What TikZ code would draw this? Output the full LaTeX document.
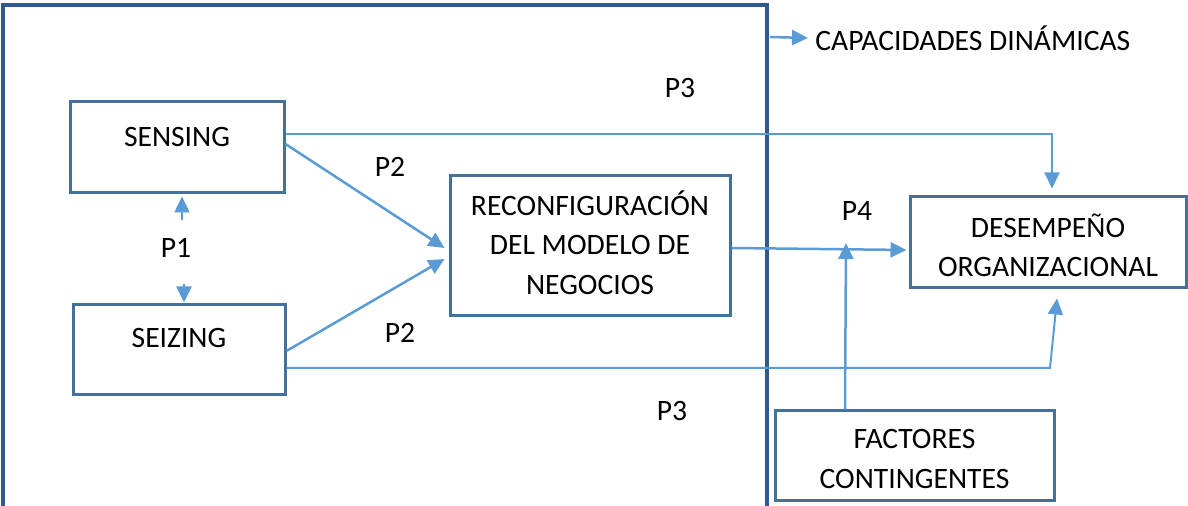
\documentclass[tikz,border=0pt]{standalone}
\usepackage{fontspec}
\setmainfont{Carlito}
\usetikzlibrary{arrows.meta,calc}
\definecolor{boxc}{HTML}{41719C}
\definecolor{framec}{HTML}{2F5A8C}
\definecolor{arrc}{HTML}{5B9BD5}
\begin{document}
\begin{tikzpicture}[x=0.5pt,y=-0.5pt,
  font=\fontsize{14.8pt}{19.8pt}\selectfont,
  box/.style={draw=boxc,line width=1.5pt,fill=white,inner sep=0pt},
  tip/.style={-{Triangle[length=8pt,width=7.5pt]}},
  conn/.style={draw=arrc,line width=1.25pt,tip},
  thin/.style={draw=arrc,line width=1pt,tip},
  lab/.style={inner sep=0pt,align=center}]
\useasboundingbox (0,0) rectangle (1188,506);
% frame
\draw[framec,line width=1.75pt] (3,515) -- (3,5) -- (767,5) -- (767,515);
% boxes
\node[box,minimum width=107pt,minimum height=45.5pt] (sens) at (177,147.5) {};
\node[lab] (senst) at ([yshift=5.25pt]sens.center) {SENSING};
\node[box,minimum width=106pt,minimum height=45pt] (seiz) at (179,350) {};
\node[lab] (seizt) at ([yshift=6pt]seiz.center) {SEIZING};
\node[box,minimum width=140pt,minimum height=70pt] (recon) at (590,246) {};
\node[lab] (recont) at ([yshift=1.8pt]recon.center) {RECONFIGURACIÓN\\DEL MODELO DE\\NEGOCIOS};
\node[box,minimum width=138pt,minimum height=45.5pt] (desem) at (1048,242.5) {};
\node[lab] (desemt) at ([yshift=-1.5pt]desem.center) {DESEMPEÑO\\ORGANIZACIONAL};
\node[box,minimum width=139.5pt,minimum height=45pt] (fact) at (914.5,456) {};
\node[lab] (factt) at ([yshift=-1.5pt]fact.center) {FACTORES\\CONTINGENTES};
% legend
\coordinate (cap0) at (770,37);
\node[lab,anchor=west] (cap) at (815,38) {CAPACIDADES DINÁMICAS};
\draw[conn] (cap0) -- ([xshift=-3.5pt]cap.west);
% labels
\node[lab] (p3a) at (680,88) {P3};
\node[lab] (p2a) at (390,167) {P2};
\node[lab] (p1) at (176,248) {P1};
\node[lab] (p2b) at (400,333) {P2};
\node[lab] (p4) at (857,211) {P4};
\node[lab] (p3b) at (672,411) {P3};
% P1 arrows
\coordinate (p1u) at (182,220);
\coordinate (p1d) at (184,284);
\draw[conn] (p1u) -- ([xshift=2.5pt,yshift=-1pt]sens.south);
\draw[conn] (p1d) -- ([xshift=2.5pt,yshift=0.5pt]seiz.north);
% P2 arrows
\draw[conn] ([yshift=1.75pt]sens.east) -- ([xshift=-2pt,yshift=-1pt]recon.west);
\draw[conn] ([yshift=-0.5pt]seiz.east) -- ([xshift=-2pt,yshift=-6.5pt]recon.west);
% P3 lines
\draw[thin] ([yshift=6.75pt]sens.east) -| ([xshift=2pt,yshift=3.5pt]desem.north);
\coordinate (c3) at (1050,368);
\draw[thin] ([yshift=-9pt]seiz.east) -- (c3) -- ([xshift=4.5pt,yshift=-4.5pt]desem.south);
% P4
\draw[conn] ([yshift=-1pt]recon.east) -- ([xshift=-1pt,yshift=-3.75pt]desem.west);
\coordinate (p4tip) at (846,243);
\draw[conn] ([xshift=-34.75pt]fact.north) -- (p4tip);
\end{tikzpicture}
\end{document}
